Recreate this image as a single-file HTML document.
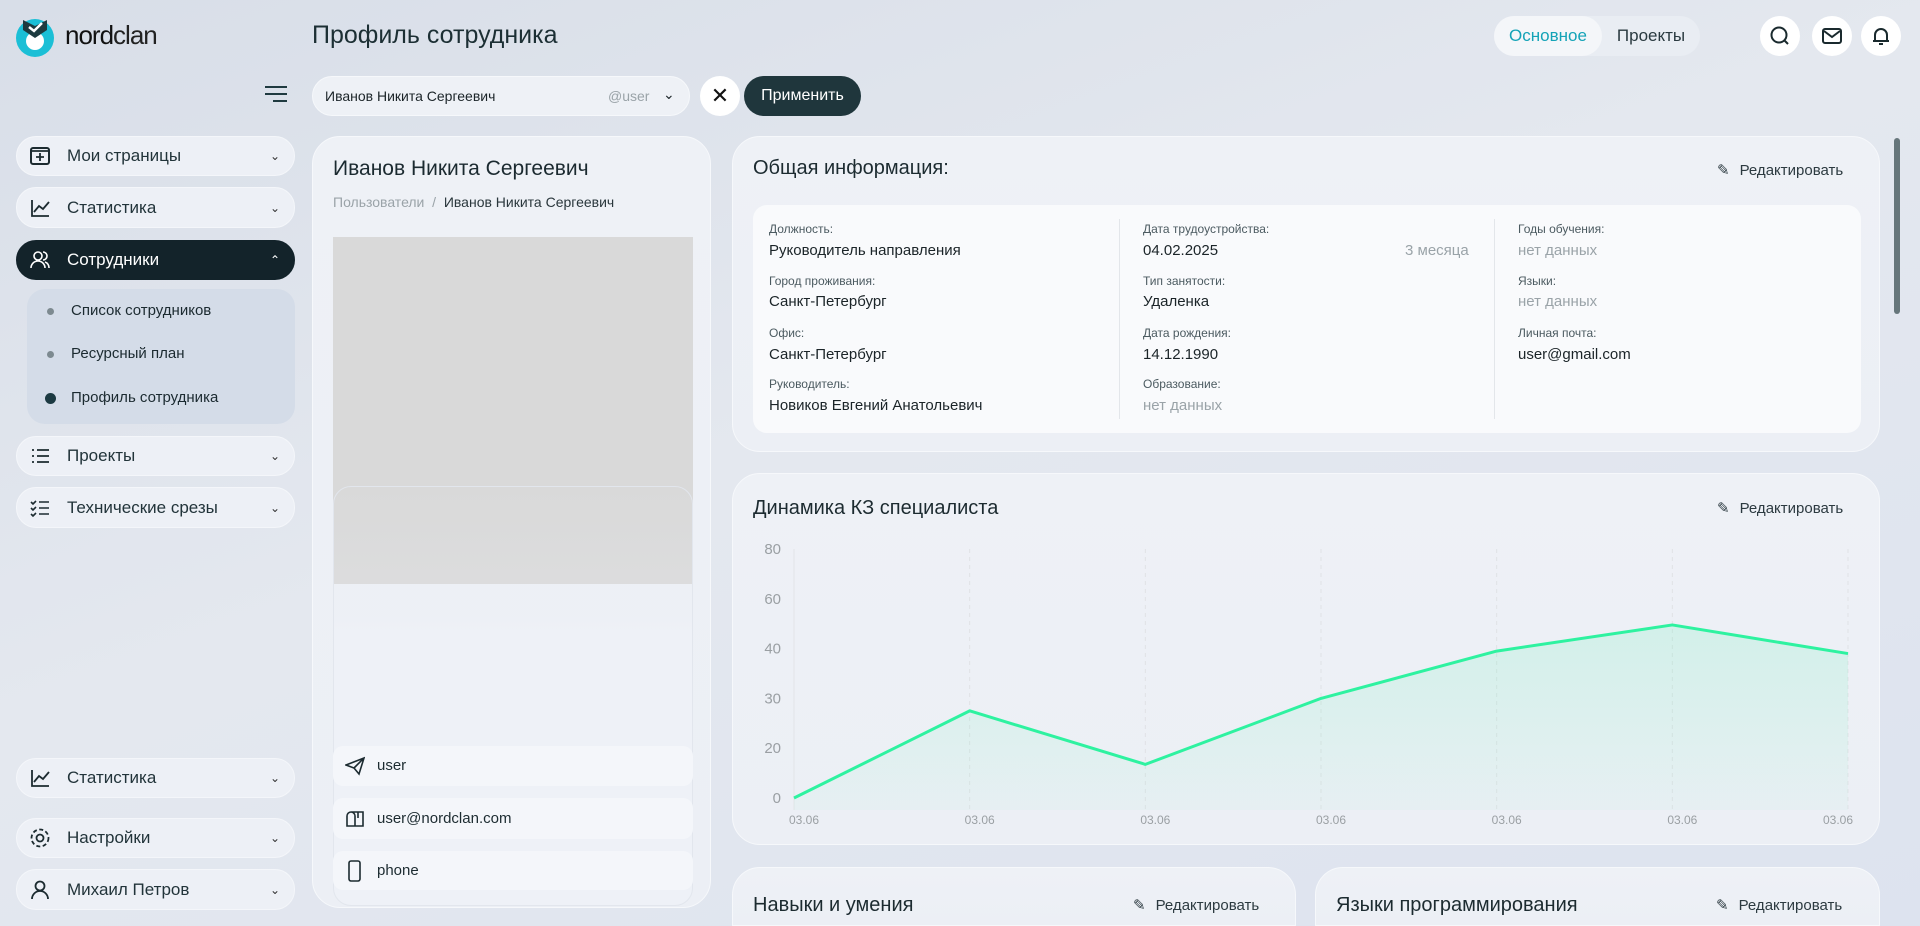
<!DOCTYPE html>
<html style="width:1920px;height:926px;overflow:hidden"><head><meta charset="utf-8">
<style>
*{box-sizing:border-box;margin:0;padding:0}
html,body{width:1920px;height:926px;overflow:hidden}
body{font-family:"Liberation Sans","Noto Sans CJK SC",sans-serif;background:linear-gradient(160deg,#d8dee8 0%,#e4e8ef 45%,#dde3ef 100%);color:#1c2b30;position:relative}
.abs{position:absolute}
.pill{position:absolute;background:#edf0f6;border-radius:20px;border:1px solid #f4f6fa;display:flex;align-items:center;font-size:17px;color:#22343a}
.pill .ic{width:22px;height:22px;margin:0 16px 0 12px;display:flex;align-items:center;justify-content:center}
.pill .chev{position:absolute;right:14px;font-size:12px;color:#333}
.card{position:absolute;background:linear-gradient(180deg,#eef1f6,#eceff5);border:1px solid #f6f8fb;border-radius:28px}
.lbl{position:absolute;font-size:12px;color:#4b5a60}
.val{position:absolute;font-size:15px;color:#1b2428}
.nd{color:#9aa3a8}
.edit{position:absolute;font-size:15px;color:#2c3a40;display:flex;align-items:center;gap:10px}
.circ{position:absolute;width:40px;height:40px;border-radius:50%;background:#fff;display:flex;align-items:center;justify-content:center}
</style></head><body>
<div class="abs" style="left:15px;top:16px;width:160px;height:40px">
<svg width="42" height="42" viewBox="0 0 42 42" style="position:absolute;left:0;top:0"><circle cx="20" cy="22" r="19" fill="#1bbfd6"/><circle cx="20" cy="25" r="9" fill="#fff"/><path d="M8 4 L20 10 L32 4 L32 14 L20 22 L8 14Z" fill="#1d3a3f"/><path d="M14 11 l5 4 l8 -8" stroke="#fff" stroke-width="2.5" fill="none"/></svg>
<span style="position:absolute;left:50px;top:4px;font-size:26px;color:#111;letter-spacing:-1px">nord<span style="font-weight:300;color:#222">clan</span></span>
</div>
<div class="abs" style="left:312px;top:21px;font-size:25px;color:#1c2f34">Профиль сотрудника</div>
<div class="abs" style="left:1494px;top:16px;width:206px;height:40px;background:#e9edf3;border-radius:20px">
<div class="abs" style="left:0;top:0;width:108px;height:40px;background:#f4f6f9;border-radius:20px;color:#14a3b7;font-size:17px;text-align:center;line-height:40px">Основное</div>
<div class="abs" style="left:108px;top:0;width:98px;height:40px;color:#2a3a40;font-size:17px;text-align:center;line-height:40px">Проекты</div>
</div>
<div class="circ" style="left:1760px;top:16px"><svg width="22" height="22"><circle cx="10" cy="10" r="7.5" stroke="#1a2a2e" stroke-width="2" fill="none"/><path d="M15 15l4 4" stroke="#1a2a2e" stroke-width="2"/></svg></div>
<div class="circ" style="left:1812px;top:16px"><svg width="22" height="22"><rect x="2" y="4" width="18" height="14" rx="2" stroke="#1a2a2e" stroke-width="2" fill="none"/><path d="M3 6l8 6 8-6" stroke="#1a2a2e" stroke-width="2" fill="none"/></svg></div>
<div class="circ" style="left:1861px;top:16px"><svg width="22" height="22"><path d="M5 16 V10 a6 6 0 0 1 12 0 V16 H3 H19" stroke="#1a2a2e" stroke-width="2" fill="none"/><path d="M9 19h4" stroke="#1a2a2e" stroke-width="2"/></svg></div>
<div class="abs" style="left:265px;top:86px;width:22px;height:18px">
<div style="height:2px;background:#1f3a40;margin-bottom:5px"></div><div style="height:2px;background:#1f3a40;margin-bottom:5px"></div><div style="height:2px;background:#1f3a40;margin-left:8px"></div></div>
<div class="abs" style="left:312px;top:76px;width:378px;height:40px;background:#eef1f6;border:1px solid #f6f8fb;border-radius:20px;font-size:14px;color:#1b2428">
<span style="position:absolute;left:12px;top:11px">Иванов Никита Сергеевич</span><span style="position:absolute;left:295px;top:11px;color:#9aa3a8">@user</span><span style="position:absolute;left:350px;top:9px;font-size:14px">&#8964;</span></div>
<div class="circ" style="left:700px;top:76px;font-size:22px;color:#111">✕</div>
<div class="abs" style="left:744px;top:76px;width:117px;height:40px;background:#1f363c;border-radius:20px;color:#fff;font-size:16px;text-align:center;line-height:40px">Применить</div>
<div class="pill" style="left:16px;top:136px;width:279px;height:40px"><span class="ic"><svg width="20" height="20"><rect x="1" y="2" width="18" height="16" rx="2" stroke="#1c2b30" stroke-width="2" fill="none"/><path d="M10 7v8M6 11h8M1 5h18" stroke="#1c2b30" stroke-width="1.8"/></svg></span>Мои страницы<span class="chev">⌄</span></div>
<div class="pill" style="left:16px;top:187px;width:279px;height:41px"><span class="ic"><svg width="20" height="20"><path d="M2 2v16h17M4 14l5-6 4 3 6-7" stroke="#1c2b30" stroke-width="1.8" fill="none"/></svg></span>Статистика<span class="chev">⌄</span></div>
<div class="pill" style="left:16px;top:240px;width:279px;height:40px;background:#13232a;border-color:#13232a;color:#fff"><span class="ic"><svg width="20" height="20"><circle cx="8" cy="6" r="4" stroke="#fff" stroke-width="1.6" fill="none"/><path d="M1 18a7 7 0 0 1 14 0M13 2a4 4 0 0 1 0 8M15 12a6 6 0 0 1 4 6" stroke="#fff" stroke-width="1.6" fill="none"/></svg></span>Сотрудники<span class="chev" style="color:#fff">⌃</span></div>
<div class="abs" style="left:27px;top:289px;width:268px;height:135px;background:#d4dce8;border-radius:18px;font-size:15px;color:#1b2a30">
<div style="position:absolute;left:20px;top:13px"><span style="display:inline-block;width:7px;height:7px;border-radius:50%;background:#7d8a90;margin-right:17px;vertical-align:middle"></span>Список сотрудников</div>
<div style="position:absolute;left:20px;top:56px"><span style="display:inline-block;width:7px;height:7px;border-radius:50%;background:#7d8a90;margin-right:17px;vertical-align:middle"></span>Ресурсный план</div>
<div style="position:absolute;left:18px;top:100px"><span style="display:inline-block;width:11px;height:11px;border-radius:50%;background:#1c3a42;margin-right:15px;vertical-align:middle"></span>Профиль сотрудника</div>
</div>
<div class="pill" style="left:16px;top:436px;width:279px;height:40px"><span class="ic"><svg width="20" height="20"><path d="M2 4h2M7 4h12M2 10h2M7 10h12M2 16h2M7 16h12" stroke="#1c2b30" stroke-width="1.8"/></svg></span>Проекты<span class="chev">⌄</span></div>
<div class="pill" style="left:16px;top:487px;width:279px;height:41px"><span class="ic"><svg width="20" height="20"><path d="M1 4l2 2 3-3M1 10l2 2 3-3M1 16l2 2 3-3M9 4h10M9 10h10M9 16h10" stroke="#1c2b30" stroke-width="1.6" fill="none"/></svg></span>Технические срезы<span class="chev">⌄</span></div>
<div class="pill" style="left:16px;top:758px;width:279px;height:40px"><span class="ic"><svg width="20" height="20"><path d="M2 2v16h17M4 14l5-6 4 3 6-7" stroke="#1c2b30" stroke-width="1.8" fill="none"/></svg></span>Статистика<span class="chev">⌄</span></div>
<div class="pill" style="left:16px;top:818px;width:279px;height:40px"><span class="ic"><svg width="22" height="22"><circle cx="11" cy="11" r="3.5" stroke="#1c2b30" stroke-width="1.8" fill="none"/><circle cx="11" cy="11" r="8.5" stroke="#1c2b30" stroke-width="1.8" fill="none" stroke-dasharray="4 2.5"/></svg></span>Настройки<span class="chev">⌄</span></div>
<div class="pill" style="left:16px;top:869px;width:279px;height:41px"><span class="ic"><svg width="20" height="20"><circle cx="10" cy="6" r="4.5" stroke="#1c2b30" stroke-width="1.8" fill="none"/><path d="M2 19a8 8 0 0 1 16 0" stroke="#1c2b30" stroke-width="1.8" fill="none"/></svg></span>Михаил Петров<span class="chev">⌄</span></div>
<div class="card" style="left:312px;top:136px;width:399px;height:772px">
<div class="abs" style="left:20px;top:20px;font-size:21px;color:#1b2a30">Иванов Никита Сергеевич</div>
<div class="abs" style="left:20px;top:57px;font-size:14px;color:#9aa3a8">Пользователи &nbsp;/&nbsp; <span style="color:#2a373c">Иванов Никита Сергеевич</span></div>
<div class="abs" style="left:20px;top:100px;width:360px;height:347px;background:#d9d9d9"></div>
<div class="abs" style="left:20px;top:349px;width:360px;height:420px;border:1px solid #e2e6ed;border-radius:18px;background:linear-gradient(180deg,rgba(236,239,245,0) 0%,rgba(236,239,245,0.2) 30%,#eef1f7 35%)"></div>
<div class="abs" style="left:20px;top:609px;width:360px;height:40px;background:#f4f6fa;border-radius:10px;font-size:15px;line-height:40px;padding-left:44px"><svg width="20" height="20" style="position:absolute;left:12px;top:10px"><path d="M1 9L19 2 14 18 9 12 1 9ZM9 12l10-10" stroke="#1c2b30" stroke-width="1.6" fill="none"/></svg>user</div>
<div class="abs" style="left:20px;top:661px;width:360px;height:41px;background:#f4f6fa;border-radius:10px;font-size:15px;line-height:41px;padding-left:44px"><svg width="22" height="20" style="position:absolute;left:12px;top:10px"><path d="M2 8a4 4 0 0 1 8 0v10H2ZM6 4h12v14H10M13 4v6" stroke="#1c2b30" stroke-width="1.6" fill="none"/></svg>user@nordclan.com</div>
<div class="abs" style="left:20px;top:714px;width:360px;height:39px;background:#f4f6fa;border-radius:10px;font-size:15px;line-height:39px;padding-left:44px"><svg width="16" height="22" style="position:absolute;left:14px;top:9px"><rect x="2" y="1" width="11" height="20" rx="2" stroke="#1c2b30" stroke-width="1.6" fill="none"/></svg>phone</div>
</div>
<div class="card" style="left:732px;top:136px;width:1148px;height:316px">
<div class="abs" style="left:20px;top:20px;font-size:20px">Общая информация:</div>
<div class="edit" style="left:984px;top:24px"><span>✎</span>Редактировать</div>
<div class="abs" style="left:20px;top:68px;width:1108px;height:228px;background:#f9fafc;border-radius:14px">
<div class="abs" style="left:366px;top:14px;width:1px;height:200px;background:#e3e6ea"></div>
<div class="abs" style="left:741px;top:14px;width:1px;height:200px;background:#e3e6ea"></div>
<div class="lbl" style="left:16px;top:17px">Должность:</div><div class="val" style="left:16px;top:37px">Руководитель направления</div>
<div class="lbl" style="left:16px;top:69px">Город проживания:</div><div class="val" style="left:16px;top:88px">Санкт-Петербург</div>
<div class="lbl" style="left:16px;top:121px">Офис:</div><div class="val" style="left:16px;top:141px">Санкт-Петербург</div>
<div class="lbl" style="left:16px;top:172px">Руководитель:</div><div class="val" style="left:16px;top:192px">Новиков Евгений Анатольевич</div>
<div class="lbl" style="left:390px;top:17px">Дата трудоустройства:</div><div class="val" style="left:390px;top:37px">04.02.2025</div><div class="val nd" style="left:652px;top:37px">3 месяца</div>
<div class="lbl" style="left:390px;top:69px">Тип занятости:</div><div class="val" style="left:390px;top:88px">Удаленка</div>
<div class="lbl" style="left:390px;top:121px">Дата рождения:</div><div class="val" style="left:390px;top:141px">14.12.1990</div>
<div class="lbl" style="left:390px;top:172px">Образование:</div><div class="val nd" style="left:390px;top:192px">нет данных</div>
<div class="lbl" style="left:765px;top:17px">Годы обучения:</div><div class="val nd" style="left:765px;top:37px">нет данных</div>
<div class="lbl" style="left:765px;top:69px">Языки:</div><div class="val nd" style="left:765px;top:88px">нет данных</div>
<div class="lbl" style="left:765px;top:121px">Личная почта:</div><div class="val" style="left:765px;top:141px">user@gmail.com</div>
</div></div>
<div class="card" style="left:732px;top:473px;width:1148px;height:372px">
<div class="abs" style="left:20px;top:23px;font-size:20px">Динамика КЗ специалиста</div>
<div class="edit" style="left:984px;top:25px"><span>✎</span>Редактировать</div>
</div>
<svg id="chart" class="abs" style="left:0;top:0" width="1920" height="926"></svg>
<div class="card" style="left:732px;top:867px;width:564px;height:59px;border-bottom-left-radius:0;border-bottom-right-radius:0"><div class="abs" style="left:20px;top:26px;font-size:20px">Навыки и умения</div><div class="edit" style="left:400px;top:28px"><span>✎</span>Редактировать</div></div>
<div class="card" style="left:1315px;top:867px;width:565px;height:59px;border-bottom-left-radius:0;border-bottom-right-radius:0"><div class="abs" style="left:20px;top:26px;font-size:20px">Языки программирования</div><div class="edit" style="left:400px;top:28px"><span>✎</span>Редактировать</div></div>
<div class="abs" style="left:1894px;top:138px;width:6px;height:176px;background:#66767b;border-radius:3px"></div>
<script>
const categories=["03.06","03.06","03.06","03.06","03.06","03.06","03.06"];
const kzValues=[0,27.5,13.5,30,39.5,49.5,39];
const yTicks=[0,20,30,40,60,80];
const svg=document.getElementById('chart');
const NS='http://www.w3.org/2000/svg';
const X0=794,X1=1848,Y0=798,Y1=549;
function xScale(i){return X0+(X1-X0)*i/(categories.length-1);}
function yScale(v){
  const step=(Y0-Y1)/(yTicks.length-1);
  for(let k=0;k<yTicks.length-1;k++){
    if(v<=yTicks[k+1]){return Y0-step*(k+(v-yTicks[k])/(yTicks[k+1]-yTicks[k]));}
  }
  return Y1;
}
function mk(t,a){const e=document.createElementNS(NS,t);for(const k in a)e.setAttribute(k,a[k]);svg.appendChild(e);return e;}
const defs=mk('defs',{});
defs.innerHTML='<linearGradient id="fillg" x1="0" y1="0" x2="0" y2="1"><stop offset="0" stop-color="#2ef2a0" stop-opacity="0.14"/><stop offset="1" stop-color="#2ef2a0" stop-opacity="0.03"/></linearGradient>';
yTicks.forEach(t=>{
  const e=mk('text',{x:781,y:yScale(t)+5,'text-anchor':'end','font-size':15,fill:'#9a9fa3','font-family':'Liberation Sans'});
  e.textContent=t;
  
  
});
categories.forEach((c,i)=>{
  const g=mk('line',{x1:xScale(i),x2:xScale(i),y1:Y1,y2:Y0+12,stroke:i==0?'#e2e4e8':'#e0e2e6','stroke-dasharray':i==0?'':'4 4'});
  
  
  const e=mk('text',{x:xScale(i)+(i==categories.length-1?-10:10),y:824,'text-anchor':'middle','font-size':12,fill:'#9a9fa3','font-family':'Liberation Sans'});
  e.textContent=c;
  
  
});
let pts=kzValues.map((v,i)=>xScale(i)+','+yScale(v)).join(' ');
const area=mk('polygon',{points:pts+' '+xScale(kzValues.length-1)+','+(Y0+12)+' '+xScale(0)+','+(Y0+12),fill:'url(#fillg)'});


const line=mk('polyline',{points:pts,fill:'none',stroke:'#2ef2a0','stroke-width':3,'stroke-linejoin':'round'});


</script>
</body></html>
